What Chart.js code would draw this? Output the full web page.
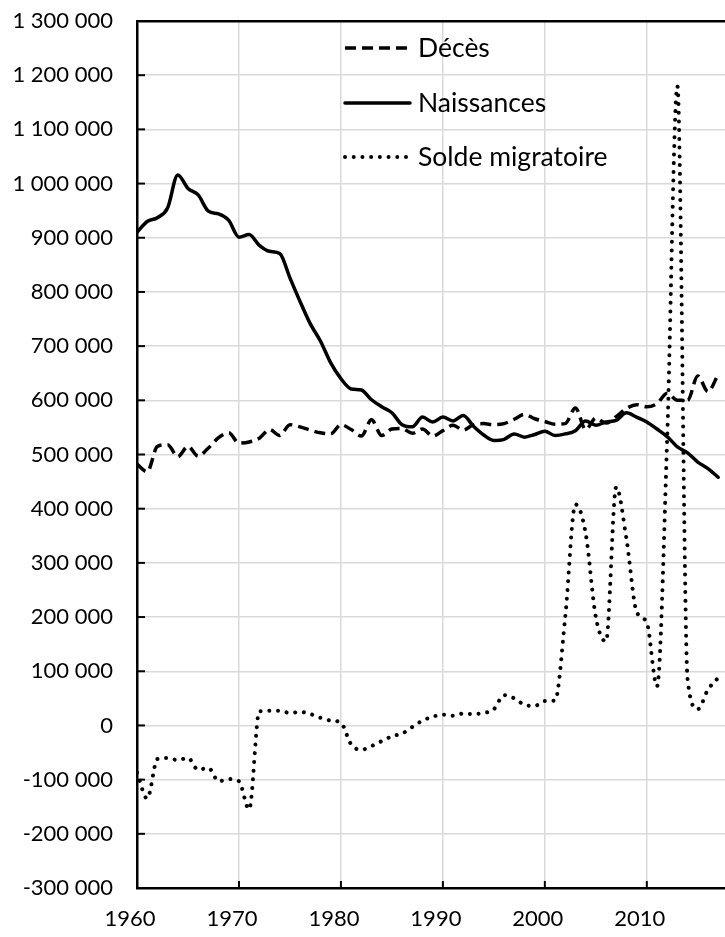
<!DOCTYPE html>
<html>
<head>
<meta charset="utf-8">
<script src="https://cdn.jsdelivr.net/npm/chart.js@4.4.1/dist/chart.umd.min.js"></script>
<style>
  html, body { margin: 0; padding: 0; background: #fff; }
  #wrap { width: 725px; height: 937px; }
</style>
</head>
<body>
<div id="wrap"><canvas id="chart" width="725" height="937"></canvas></div>
<script>
// Années
const years = [1960, 1961, 1962, 1963, 1964, 1965, 1966, 1967, 1968, 1969,
               1970, 1971, 1972, 1973, 1974, 1975, 1976, 1977, 1978, 1979,
               1980, 1981, 1982, 1983, 1984, 1985, 1986, 1987, 1988, 1989,
               1990, 1991, 1992, 1993, 1994, 1995, 1996, 1997, 1998, 1999,
               2000, 2001, 2002, 2003, 2004, 2005, 2006, 2007, 2008, 2009,
               2010, 2011, 2012, 2013, 2014, 2015, 2016, 2017];

// graduations de l'axe des années
const xTicks = [1960, 1970, 1980, 1990, 2000, 2010];

// Décès
const deces = [482000, 468000, 515000, 518000, 496000, 515000, 497000, 512000, 531000, 540000,
               521000, 523000, 530000, 546000, 535000, 555000, 551000, 545000, 540000, 538000,
               555000, 546000, 534000, 564000, 535000, 547000, 548000, 539000, 547000, 534000,
               544000, 554000, 545000, 555000, 557000, 555000, 557000, 565000, 574000, 566000,
               561000, 556000, 557000, 586000, 546000, 567000, 558000, 570000, 585000, 592000,
               588000, 594000, 613000, 600000, 600000, 645000, 616000, 648000];

// Naissances
const naissances = [910000, 930000, 937000, 955000, 1016000, 991000, 979000, 949000, 944000, 932000,
                    901000, 906000, 886000, 875000, 871000, 826000, 782000, 741000, 709000, 669000,
                    640000, 621000, 619000, 601000, 588000, 577000, 555000, 551000, 569000, 560000,
                    569000, 562000, 572000, 552000, 536000, 526000, 528000, 538000, 532000, 537000,
                    543000, 535000, 538000, 544000, 562000, 554000, 560000, 563000, 577000, 569000,
                    560000, 547000, 533000, 514000, 503000, 486000, 474000, 458000];

// Solde migratoire
const solde = [-87000, -135000, -62000, -60000, -64000, -60000, -82000, -78000, -103000, -99000,
               -103000, -155000, 26000, 27000, 27000, 23000, 25000, 21000, 14000, 9000,
               5000, -35000, -45000, -38000, -29000, -20000, -15000, -3000, 9000, 16000,
               20000, 18000, 22000, 21000, 23000, 30000, 56000, 50000, 38000, 36000,
               45000, 46000, 200000, 408000, 355000, 200000, 155000, 440000, 345000, 210000,
               190000, 72000, 530000, 1180000, 85000, 30000, 66000, 88000];

const tickFont = { family: 'Lato', size: 22 };
const legendFont = { family: 'Lato', size: 26.5 };

function fmt(v) {
  const s = String(Math.abs(v)).replace(/\B(?=(\d{3})+(?!\d))/g, ' ');
  return (v < 0 ? '-' : '') + s;
}

function toPoints(arr) {
  return years.map((y, i) => ({ x: y, y: arr[i] }));
}

// petites graduations vers l'intérieur
const innerTicks = {
  id: 'innerTicks',
  beforeDatasetsDraw(chart) {
    const ctx = chart.ctx;
    const a = chart.chartArea;
    ctx.save();
    ctx.strokeStyle = '#000';
    ctx.lineWidth = 2;
    chart.scales.y.ticks.forEach(t => {
      const py = chart.scales.y.getPixelForValue(t.value);
      ctx.beginPath();
      ctx.moveTo(a.left, py);
      ctx.lineTo(a.left + 8, py);
      ctx.stroke();
    });
    chart.scales.x.ticks.forEach(t => {
      const px = chart.scales.x.getPixelForValue(t.value);
      ctx.beginPath();
      ctx.moveTo(px, a.bottom);
      ctx.lineTo(px, a.bottom - 7);
      ctx.stroke();
    });
    ctx.restore();
  }
};

// légende dans la zone du graphique
const insideLegend = {
  id: 'insideLegend',
  afterDraw(chart) {
    const ctx = chart.ctx;
    const rows = [48, 103, 157];
    ctx.save();
    chart.data.datasets.forEach((ds, i) => {
      const y = rows[i];
      ctx.beginPath();
      ctx.strokeStyle = ds.borderColor;
      ctx.lineWidth = ds.borderWidth;
      ctx.lineCap = ds.borderCapStyle || 'butt';
      ctx.setLineDash(ds.borderDash || []);
      ctx.moveTo(345, y);
      ctx.lineTo(410, y);
      ctx.stroke();
      ctx.setLineDash([]);
      ctx.fillStyle = '#000';
      ctx.font = legendFont.size + 'px ' + legendFont.family;
      ctx.textBaseline = 'middle';
      ctx.textAlign = 'left';
      ctx.fillText(ds.label, 418, y);
    });
    ctx.restore();
  }
};

new Chart(document.getElementById('chart').getContext('2d'), {
  type: 'line',
  data: {
    datasets: [
      {
        label: 'Décès',
        data: toPoints(deces),
        borderColor: '#000',
        borderWidth: 3.5,
        borderDash: [11, 6],
        borderCapStyle: 'butt',
        pointRadius: 0,
        cubicInterpolationMode: 'monotone'
      },
      {
        label: 'Naissances',
        data: toPoints(naissances),
        borderColor: '#000',
        borderWidth: 3.5,
        borderCapStyle: 'round',
        pointRadius: 0,
        cubicInterpolationMode: 'monotone'
      },
      {
        label: 'Solde migratoire',
        data: toPoints(solde),
        borderColor: '#000',
        borderWidth: 4,
        borderDash: [0.01, 8.7],
        borderCapStyle: 'round',
        pointRadius: 0,
        cubicInterpolationMode: 'monotone'
      }
    ]
  },
  options: {
    responsive: false,
    animation: false,
    devicePixelRatio: 1,
    layout: { padding: { top: 21, right: 0, left: 0, bottom: 0 } },
    plugins: {
      legend: { display: false },
      tooltip: { enabled: false }
    },
    scales: {
      x: {
        type: 'linear',
        min: 1960,
        max: 2017.67,
        afterBuildTicks: scale => {
          scale.ticks = xTicks.map(v => ({ value: v }));
        },
        afterFit: scale => { scale.height = 49; },
        ticks: {
          color: '#000',
          font: tickFont,
          padding: 18,
          labelOffset: -7,
          maxRotation: 0,
          callback: v => String(v)
        },
        grid: {
          color: c => (c.tick && c.tick.value === 1960) ? 'rgba(0,0,0,0)' : '#d9d9d9',
          lineWidth: 1.5,
          drawTicks: false
        },
        border: { display: true, color: '#000', width: 2.5 }
      },
      y: {
        min: -300000,
        max: 1300000,
        afterFit: scale => {
          scale.width = 137;
          scale.paddingTop = 0;
        },
        ticks: {
          stepSize: 100000,
          color: '#000',
          font: tickFont,
          padding: 24,
          callback: v => fmt(v)
        },
        grid: {
          color: c => (c.tick && c.tick.value === 1300000) ? '#000' : (c.tick && c.tick.value === -300000 ? 'rgba(0,0,0,0)' : '#d9d9d9'),
          lineWidth: c => (c.tick && c.tick.value === 1300000) ? 2.5 : 1.5,
          drawTicks: false
        },
        border: { display: true, color: '#000', width: 2.5 }
      }
    }
  },
  plugins: [innerTicks, insideLegend]
});
</script>
</body>
</html>
